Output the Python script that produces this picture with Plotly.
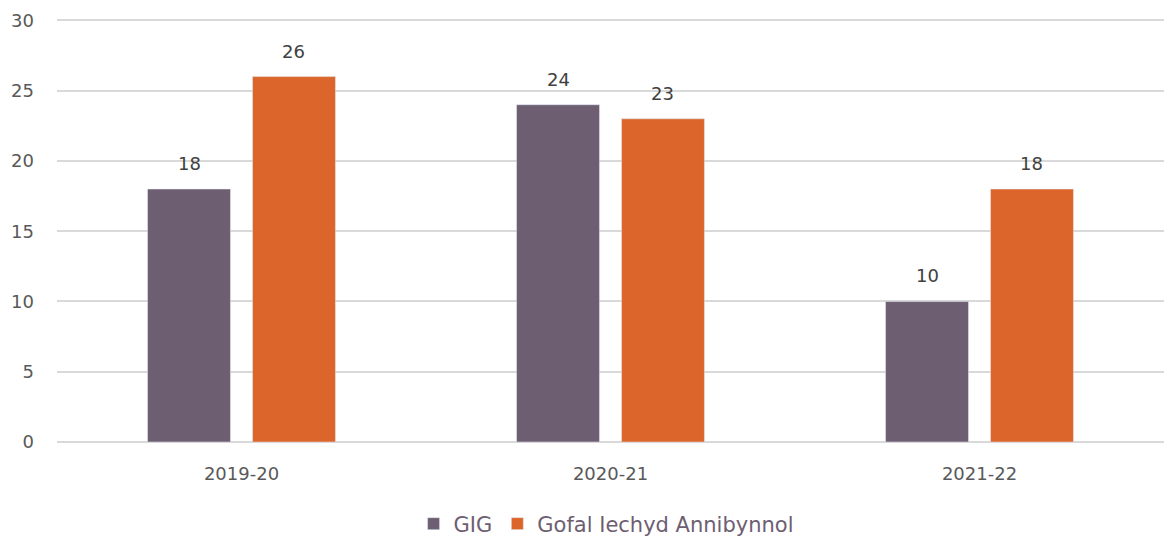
import plotly.graph_objects as go

years = ["2019-20", "2020-21", "2021-22"]
gig = [18, 24, 10]
gofal = [26, 23, 18]

purple = "#6D5E72"
orange = "#DC652B"

W, H = 1164, 536
L, R, T, B = 57, 0, 19, 94
bargap = 0.431
slot = (W - L - R) / len(years) * (1 - bargap) / 2

fig = go.Figure()
fig.add_trace(go.Bar(x=years, y=gig, name="GIG", marker_color=purple))
fig.add_trace(go.Bar(x=years, y=gofal, name="Gofal Iechyd Annibynnol", marker_color=orange))

# value labels above each bar
for vals, shift in [(gig, -slot / 2), (gofal, slot / 2)]:
    for yr, v in zip(years, vals):
        fig.add_annotation(
            x=yr, y=v, text=str(v), showarrow=False,
            xshift=shift, yshift=13, yanchor="bottom",
            font=dict(family="DejaVu Sans", size=18, color="#404040"),
        )

fig.update_layout(
    width=W, height=H,
    margin=dict(l=L, r=R, t=T, b=B),
    plot_bgcolor="white", paper_bgcolor="white",
    font=dict(family="DejaVu Sans", size=18, color="#595959"),
    barmode="group", bargap=bargap, bargroupgap=0.21,
    showlegend=True,
    legend=dict(
        orientation="h", x=0.496, xanchor="center",
        yref="container", y=12 / H, yanchor="middle",
        font=dict(size=21, color=purple),
    ),
    xaxis=dict(showgrid=False, ticks="", ticklabelstandoff=19, automargin=False),
    yaxis=dict(
        range=[0, 30.1], dtick=5, gridcolor="#D9D9D9", gridwidth=1.5,
        zeroline=True, zerolinecolor="#D9D9D9", zerolinewidth=1.5,
        ticks="", ticklabelstandoff=22, automargin=False,
    ),
)

# page body has a default 8px margin; drop it so the figure sits at 0,0
fig.write_html(
    "out.html",
    config={"displayModeBar": False},
    post_script="document.body.style.margin='0';document.body.style.overflow='hidden';",
)
